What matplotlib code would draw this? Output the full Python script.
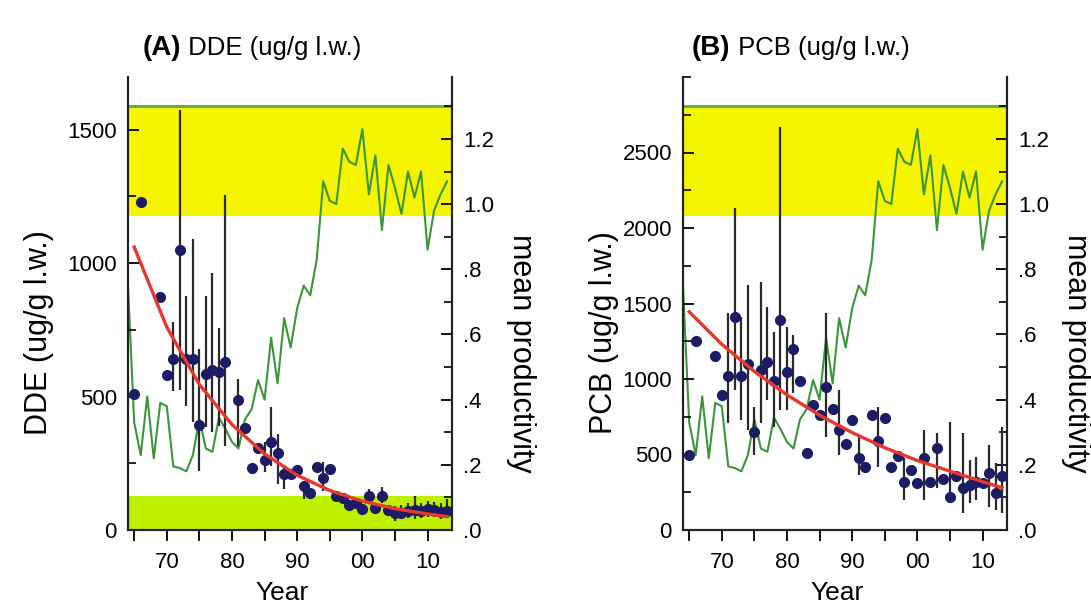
import matplotlib
matplotlib.use('Agg')
import matplotlib.pyplot as plt
from matplotlib.ticker import MultipleLocator, FixedLocator, FixedFormatter

plt.rcParams['font.family'] = ['Liberation Sans', 'DejaVu Sans']

# ---------------- data ----------------
prod_years = list(range(1964, 2014))
prod_values = [0.77, 0.33, 0.23, 0.41, 0.22, 0.39, 0.38, 0.195, 0.19, 0.18,
               0.23, 0.34, 0.25, 0.24, 0.345, 0.31, 0.27, 0.25, 0.34, 0.37,
               0.46, 0.40, 0.59, 0.45, 0.65, 0.56, 0.68, 0.75, 0.72, 0.83,
               1.07, 1.01, 1.00, 1.17, 1.13, 1.12, 1.23, 1.03, 1.15, 0.92,
               1.12, 1.05, 0.97, 1.10, 1.02, 1.10, 0.86, 0.98, 1.03, 1.07]

dde_years = [1965, 1966, 1969, 1970, 1971, 1972, 1973, 1974, 1975, 1976, 1977,
             1978, 1979, 1981, 1982, 1983, 1984, 1985, 1986, 1987, 1988, 1989,
             1990, 1991, 1992, 1993, 1994, 1995, 1996, 1997, 1998, 1999, 2000,
             2001, 2002, 2003, 2004, 2005, 2006, 2007, 2008, 2009, 2010, 2011,
             2012, 2013]
dde_values = [510, 1227, 874, 580, 640, 1050, 640, 640, 392, 583, 600,
              592, 630, 486, 381, 232, 309, 262, 330, 289, 209, 208,
              226, 163, 138, 236, 194, 228, 127, 120, 95, 103, 77,
              128, 81, 128, 74, 62, 62, 72, 76, 72, 77, 76,
              68, 72]
dde_bar_years = [1971, 1972, 1973, 1974, 1975, 1976, 1977, 1978, 1979, 1981,
                 1985, 1986, 1987, 1988, 1991, 1994, 2001, 2003, 2005, 2006,
                 2007, 2008, 2009, 2010, 2011, 2012, 2013]
dde_bar_low = [520, 525, 465, 405, 220, 385, 366, 390, 315, 315,
               217, 240, 172, 153, 116, 147, 110, 100, 35, 40,
               45, 41, 45, 50, 50, 40, 45]
dde_bar_high = [780, 1575, 875, 1090, 677, 876, 964, 758, 1256, 565,
                329, 460, 359, 232, 184, 254, 153, 160, 90, 95,
                100, 128, 100, 110, 105, 100, 115]
dde_fit_years = [1965, 1970, 1975, 1980, 1985, 1990, 1995, 2000, 2005, 2010, 2013]
dde_fit_values = [1060, 760, 545, 395, 285, 205, 148, 108, 80, 60, 50]

pcb_years = [1965, 1966, 1969, 1970, 1971, 1972, 1973, 1974, 1975, 1976, 1977,
             1978, 1979, 1980, 1981, 1982, 1983, 1984, 1985, 1986, 1987, 1988,
             1989, 1990, 1991, 1992, 1993, 1994, 1995, 1996, 1997, 1998, 1999,
             2000, 2001, 2002, 2003, 2004, 2005, 2006, 2007, 2008, 2009, 2010,
             2011, 2012, 2013]
pcb_values = [500, 1250, 1150, 895, 1020, 1410, 1020, 1100, 650, 1060, 1110,
              990, 1390, 1045, 1200, 985, 510, 830, 760, 950, 800, 660,
              570, 730, 480, 420, 760, 590, 740, 420, 490, 320, 400,
              310, 475, 320, 540, 340, 220, 355, 275, 300, 315, 310,
              375, 245, 355]
pcb_bar_years = [1971, 1972, 1973, 1974, 1975, 1976, 1977, 1978, 1979, 1980,
                 1981, 1986, 1988, 1991, 1994, 1998, 2001, 2003, 2005, 2007,
                 2008, 2009, 2011, 2012, 2013]
pcb_bar_low = [706, 927, 728, 662, 497, 706, 861, 684, 795, 795,
               905, 615, 500, 364, 419, 199, 199, 278, 179, 113,
               179, 199, 152, 132, 113]
pcb_bar_high = [1435, 2130, 1413, 1623, 817, 1645, 1480, 1313, 2671, 1346,
                1290, 1435, 930, 618, 817, 477, 662, 642, 715, 640,
                464, 486, 563, 444, 682]
pcb_fit_years = [1965, 1970, 1975, 1980, 1985, 1990, 1995, 2000, 2005, 2010, 2013]
pcb_fit_values = [1445, 1230, 1050, 895, 760, 645, 545, 460, 390, 320, 280]

panels = [
    dict(tag='(A)', name=' DDE (ug/g l.w.)', ylabel='DDE (ug/g l.w.)',
         years=dde_years, values=dde_values, bar_years=dde_bar_years,
         low=dde_bar_low, high=dde_bar_high, fit_years=dde_fit_years,
         fit_values=dde_fit_values, ymax=1697, yticks=[0, 500, 1000, 1500],
         left=128, ylab_x=-0.228, title_x=0.046, low_band=True),
    dict(tag='(B)', name=' PCB (ug/g l.w.)', ylabel='PCB (ug/g l.w.)',
         years=pcb_years, values=pcb_values, bar_years=pcb_bar_years,
         low=pcb_bar_low, high=pcb_bar_high, fit_years=pcb_fit_years,
         fit_values=pcb_fit_values, ymax=3000,
         yticks=[0, 500, 1000, 1500, 2000, 2500],
         left=683, ylab_x=-0.198, title_x=0.028, low_band=False),
]

# ---------------- figure ----------------
W, H = 1091, 606
fig = plt.figure(figsize=(W / 100, H / 100), dpi=100)

RMAX = 1.39
for p in panels:
    ax = fig.add_axes([p['left'] / W, (H - 530) / H, 324 / W, 453 / H])
    ax2 = ax.twinx()
    ax.set_zorder(ax2.get_zorder() + 1)
    ax.patch.set_visible(False)

    # bands and productivity (right axis, behind)
    ax2.axhspan(0.963, 1.30, color='#f5f500', lw=0, zorder=0)
    ax2.axhline(1.30, color='#6fae3e', lw=2.2, zorder=1)
    if p['low_band']:
        ax2.axhspan(0.0, 0.104, color='#bff000', lw=0, zorder=0)
    ax2.plot(prod_years, prod_values, color='#3a963a', lw=1.5, zorder=2)
    ax2.set_ylim(0, RMAX)

    # contaminant data (left axis, front)
    ax.vlines(p['bar_years'], p['low'], p['high'], color='#2a2a2a', lw=1.6, zorder=2)
    ax.plot(p['years'], p['values'], 'o', color='#1b1b66', ms=7, zorder=3)
    ax.plot(p['fit_years'], p['fit_values'], color='#e8372c', lw=2.4, zorder=4)
    ax.set_ylim(0, p['ymax'])
    ax.set_xlim(1964.05, 2013.75)

    for a in (ax, ax2):
        a.spines['top'].set_visible(False)
        for s in ('left', 'right', 'bottom'):
            a.spines[s].set_linewidth(1.5)
            a.spines[s].set_color('#222222')

    ax.xaxis.set_major_locator(FixedLocator([1970, 1980, 1990, 2000, 2010]))
    ax.xaxis.set_major_formatter(FixedFormatter(['70', '80', '90', '00', '10']))
    ax.xaxis.set_minor_locator(FixedLocator([1965, 1975, 1985, 1995, 2005]))
    ax.tick_params(axis='x', which='both', direction='out', length=8, width=1.3,
                   labelsize=16, pad=8)

    ax.yaxis.set_major_locator(FixedLocator(p['yticks']))
    ax.yaxis.set_minor_locator(MultipleLocator(250))
    ax.tick_params(axis='y', which='major', direction='in', length=8, width=1.3,
                   labelsize=16, pad=8)
    ax.tick_params(axis='y', which='minor', direction='in', length=6, width=1.2)

    ax2.yaxis.set_major_locator(FixedLocator([0, 0.2, 0.4, 0.6, 0.8, 1.0, 1.2]))
    ax2.yaxis.set_major_formatter(FixedFormatter(['.0', '.2', '.4', '.6', '.8', '1.0', '1.2']))
    ax2.yaxis.set_minor_locator(MultipleLocator(0.1))
    ax2.tick_params(axis='y', which='major', direction='in', length=8, width=1.3,
                    labelsize=16, pad=8)
    ax2.tick_params(axis='y', which='minor', direction='in', length=6, width=1.2)

    ax.set_xlabel('Year', fontsize=19)
    ax.xaxis.set_label_coords(0.475, -0.112)
    ax.set_ylabel(p['ylabel'], fontsize=22)
    ax.yaxis.set_label_coords(p['ylab_x'], 0.435)
    ax2.set_ylabel('mean productivity', fontsize=22, rotation=270, va='center')
    ax2.yaxis.set_label_coords(1.213, 0.39)

    t1 = ax.text(p['title_x'], 1.064, p['tag'], transform=ax.transAxes, fontsize=20,
                 fontweight='bold', ha='left', va='center')
    ax.annotate(p['name'], xy=(1, 0.5), xycoords=t1, fontsize=18.5,
                ha='left', va='center')

fig.savefig('out.png', dpi=100)
